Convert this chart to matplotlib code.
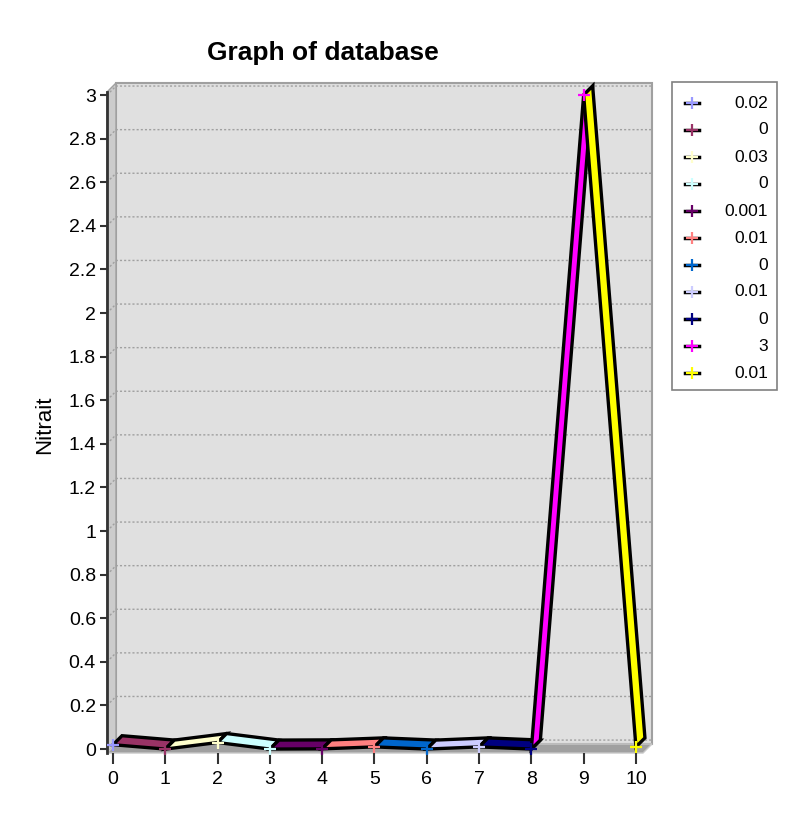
import numpy as np
import matplotlib
matplotlib.use("Agg")
import matplotlib.pyplot as plt
from matplotlib.patches import Polygon, Rectangle
from matplotlib.lines import Line2D

plt.rcParams['font.family'] = ['Liberation Sans', 'DejaVu Sans']

# sample index and measured nitrite per sample
positions = [0, 1, 2, 3, 4, 5, 6, 7, 8, 9, 10]
nitrait = [0.02, 0, 0.03, 0, 0.001, 0.01, 0, 0.01, 0, 3, 0.01]
series_colors = ['#9999ff', '#993366', '#ffffcc', '#ccffff', '#660066', '#ff8080',
                 '#0066cc', '#ccccff', '#000080', '#ff00ff', '#ffff00']
x_ticks = [0, 1, 2, 3, 4, 5, 6, 7, 8, 9, 10]
y_ticks = [0, 0.2, 0.4, 0.6, 0.8, 1, 1.2, 1.4, 1.6, 1.8, 2, 2.2, 2.4, 2.6, 2.8, 3]
y_tick_labels = ['0', '0.2', '0.4', '0.6', '0.8', '1', '1.2', '1.4', '1.6', '1.8',
                 '2', '2.2', '2.4', '2.6', '2.8', '3']

W, H = 794, 825
DEPTH_X, DEPTH_Y = 9, 9  # pixel depth of the fake 3d box

fig = plt.figure(figsize=(W / 100, H / 100), dpi=100)
ax = fig.add_axes([107 / W, 1 - 753 / H, (643 - 107) / W, (753 - 92) / H])
ax.set_facecolor('none')
ax.set_xlim(-0.115, 10.135)
ax.set_ylim(-0.018, 3.014)

# depth offsets in data units
p0 = ax.transData.transform((0, 0))
p1 = ax.transData.transform((1, 1))
ddx = DEPTH_X / (p1[0] - p0[0])
ddy = DEPTH_Y / (p1[1] - p0[1])

x0, x1 = ax.get_xlim()
y0, y1 = ax.get_ylim()

back = Polygon([(x0 + ddx, y0 + ddy), (x1 + ddx, y0 + ddy), (x1 + ddx, y1 + ddy), (x0 + ddx, y1 + ddy)],
               closed=True, fc='#e0e0e0', ec='#a0a0a0', lw=1.5, clip_on=False, zorder=0)
left_wall = Polygon([(x0, y0), (x0 + ddx, y0 + ddy), (x0 + ddx, y1 + ddy), (x0, y1)],
                    closed=True, fc='#cccccc', ec='#a0a0a0', lw=1.0, clip_on=False, zorder=0.5)
floor = Polygon([(x0, y0), (x1, y0), (x1 + ddx, y0 + ddy), (x0 + ddx, y0 + ddy)],
                closed=True, fc='#a0a0a0', ec='#c8c8c8', lw=1.0, clip_on=False, zorder=0.5)
for p in (back, left_wall, floor):
    ax.add_patch(p)

# dotted gridlines on the back wall, with the short diagonal on the side wall
for v in y_ticks:
    ax.plot([x0, x0 + ddx, x1 + ddx], [v, v + ddy, v + ddy], color='#a0a0a0',
            lw=1.0, ls=(0, (1.5, 1.5)), clip_on=False, zorder=1)

# each sample is joined to the previous one by a ribbon in its own colour
for k in range(1, len(positions)):
    xa, xb = positions[k - 1], positions[k]
    ya, yb = nitrait[k - 1], nitrait[k]
    ribbon = Polygon([(xa, ya), (xb, yb), (xb + ddx, yb + ddy), (xa + ddx, ya + ddy)],
                     closed=True, fc=series_colors[k], ec='black', lw=2.4,
                     joinstyle='miter', clip_on=False, zorder=3)
    ax.add_patch(ribbon)

for k in range(len(positions)):
    ax.plot(positions[k], nitrait[k], ls='none', marker='+', ms=8, mew=1.6,
            color=series_colors[k], clip_on=False, zorder=5)

for side in ('top', 'right', 'bottom'):
    ax.spines[side].set_visible(False)
ax.spines['left'].set_color('#333333')
ax.spines['left'].set_linewidth(2.0)

ax.set_xticks(x_ticks)
ax.set_yticks(y_ticks)
ax.set_yticklabels(y_tick_labels)
ax.tick_params(axis='y', length=5, width=1.5, color='#333333', pad=3, labelsize=14)
ax.tick_params(axis='x', length=8, width=1.5, color='#333333', pad=5, labelsize=14)

fig.text(45 / W, 1 - 425 / H, 'Nitrait', rotation=90, ha='center', va='center', fontsize=16)

fig.text(323 / W, 1 - 53 / H, 'Graph of database', ha='center', va='center',
         fontsize=19, fontweight='bold')

# legend box: black line sample with the series marker, value right-aligned
lx0, ly0, lx1, ly1 = 672, 82, 777, 390
fig.add_artist(Rectangle((lx0 / W, 1 - ly1 / H), (lx1 - lx0) / W, (ly1 - ly0) / H,
                         transform=fig.transFigure, fc='white', ec='#808080', lw=1.2))
row0, row_step = 103, 27
for k, (v, c) in enumerate(zip(nitrait, series_colors)):
    yy = 1 - (row0 + k * row_step) / H
    fig.add_artist(Line2D([685 / W, 699 / W], [yy, yy], transform=fig.transFigure,
                          color='black', lw=2.5))
    fig.add_artist(Line2D([692 / W], [yy], transform=fig.transFigure, ls='none',
                          marker='+', ms=8, mew=1.6, color=c))
    fig.text(768 / W, yy, '%g' % v, ha='right', va='center', fontsize=12.5)

fig.savefig('out.png', dpi=100)
